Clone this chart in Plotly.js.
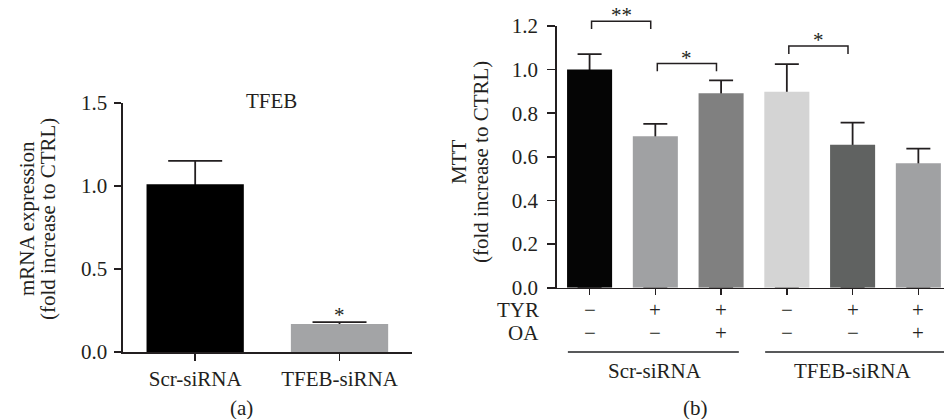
<!DOCTYPE html>
<html>
<head>
<meta charset="utf-8">
<script src="https://cdn.plot.ly/plotly-3.0.1.min.js"></script>
<style>html,body{margin:0;padding:0;background:#fff;}#chart{width:944px;height:419px;}</style>
</head>
<body>
<div id="chart"></div>
<script>
// ---- Panel (a) data ----
const aCategories = ['Scr-siRNA', 'TFEB-siRNA'];
const aValues = [1.01, 0.168];
const aErrors = [0.14, 0.012];
const aColors = ['#000000', '#a3a4a6'];
const aTitle = 'TFEB';
const aYTitle = ['mRNA expression', '(fold increase to CTRL)'];
const aSig = ['', '*'];

// ---- Panel (b) data ----
const bIndex = [0, 1, 2, 3, 4, 5];
const bGroup = ['Scr-siRNA', 'Scr-siRNA', 'Scr-siRNA', 'TFEB-siRNA', 'TFEB-siRNA', 'TFEB-siRNA'];
const bTYR = ['−', '+', '+', '−', '+', '+'];
const bOA = ['−', '−', '+', '−', '−', '+'];
const bValues = [1.0, 0.694, 0.892, 0.898, 0.655, 0.571];
const bErrors = [0.071, 0.057, 0.059, 0.127, 0.102, 0.067];
const bColors = ['#050505', '#a0a1a3', '#808080', '#d4d4d4', '#606261', '#a0a1a3'];
const bYTitle = ['MTT', '(fold increase to CTRL)'];
const bRowLabels = ['TYR', 'OA'];
const bGroups = ['Scr-siRNA', 'TFEB-siRNA'];
// significance comparisons: from index, to index, bracket height, label
const bCompFrom = [0, 1, 3];
const bCompTo = [1, 2, 4];
const bCompY = [1.222, 1.028, 1.108];
const bCompLabel = ['**', '*', '*'];

// ---- geometry ----
const W = 944, H = 419;
const FONT = 'Liberation Serif, Times New Roman, serif';
const FS = 21;
const INK = '#231f20';
const aXDom = [123 / W, 411.7 / W], aYDom = [1 - 352 / H, 1 - 102.7 / H];
const bXDom = [556.7 / W, 1], bYDom = [1 - 287.7 / H, 1 - 26 / H];
const aXR = [-0.5, 1.5], aYR = [0, 1.5];
const bXR = [-0.5, 5.39], bYR = [0, 1.2];
const lin = (v, r, d) => d[0] + (v - r[0]) / (r[1] - r[0]) * (d[1] - d[0]);
const ax = v => lin(v, aXR, aXDom), ay = v => lin(v, aYR, aYDom);
const bx = v => lin(v, bXR, bXDom), by = v => lin(v, bYR, bYDom);
const px2x = p => p / W, px2y = p => 1 - p / H;

const traces = [
  // error carrier (a): drawn beneath the opaque bars so only the upper whisker shows
  {type: 'bar', x: aCategories, y: aValues, width: 0.674, xaxis: 'x', yaxis: 'y',
   marker: {color: 'rgba(0,0,0,0)'}, hoverinfo: 'skip', showlegend: false,
   error_y: {type: 'data', symmetric: false, array: aErrors, arrayminus: aValues,
             width: 27, thickness: 1.8, color: INK}},
  {type: 'bar', x: aCategories, y: aValues, width: 0.674, xaxis: 'x', yaxis: 'y',
   marker: {color: aColors}, showlegend: false},
  // error carrier (b)
  {type: 'bar', x: bIndex, y: bValues, width: 0.685, xaxis: 'x2', yaxis: 'y2',
   marker: {color: 'rgba(0,0,0,0)'}, hoverinfo: 'skip', showlegend: false,
   error_y: {type: 'data', symmetric: false, array: bErrors, arrayminus: bValues,
             width: 12, thickness: 1.8, color: INK}},
  {type: 'bar', x: bIndex, y: bValues, width: 0.685, xaxis: 'x2', yaxis: 'y2',
   marker: {color: bColors}, showlegend: false}
];

const axCommon = {showgrid: false, zeroline: false, showline: true, linecolor: INK, linewidth: 1.6,
  ticks: 'outside', ticklen: 6, tickwidth: 1.6, tickcolor: INK, fixedrange: true,
  tickfont: {family: FONT, size: FS, color: INK}};

const annotations = [];
const shapes = [];
const ann = (text, x, y, opts) => annotations.push(Object.assign({text, x, y, xref: 'paper', yref: 'paper',
  xanchor: 'center', yanchor: 'middle', showarrow: false,
  font: {family: FONT, size: FS, color: INK}}, opts || {}));

// panel (a)
ann(aTitle, px2x(271), px2y(101));
ann(aYTitle[0], px2x(27), px2y(219), {textangle: -90});
ann(aYTitle[1], px2x(48), px2y(219), {textangle: -90});
aSig.forEach((s, i) => { if (s) ann(s, ax(i), ay(aValues[i] + aErrors[i]), {yanchor: 'bottom', yshift: -7}); });
ann('(a)', px2x(241), px2y(408));

// panel (b)
ann(bYTitle[0], px2x(459), px2y(162), {textangle: -90});
ann(bYTitle[1], px2x(481), px2y(162), {textangle: -90});
ann(bRowLabels[0], px2x(541), px2y(310), {xanchor: 'right'});
ann(bRowLabels[1], px2x(541), px2y(333), {xanchor: 'right'});
bIndex.forEach(i => {
  ann(bTYR[i], bx(i), px2y(310));
  ann(bOA[i], bx(i), px2y(333));
});
bCompFrom.forEach((f, k) => {
  const x0 = bx(f + 0.03), x1 = bx(bCompTo[k] - 0.07);
  const yT = by(bCompY[k]), yB = by(bCompY[k] - 0.036);
  shapes.push({type: 'path', xref: 'paper', yref: 'paper',
    path: `M ${x0} ${yB} L ${x0} ${yT} L ${x1} ${yT} L ${x1} ${yB}`,
    line: {color: INK, width: 1.5}});
  ann(bCompLabel[k], (x0 + x1) / 2, yT, {yanchor: 'bottom', yshift: -8});
});
bGroups.forEach((g, gi) => {
  const idx = bIndex.filter(i => bGroup[i] === g);
  const lo = Math.min(...idx), hi = Math.max(...idx);
  const mid = (lo + hi) / 2;
  const x0 = bx(lo - 0.33), x1 = Math.min(1, bx(hi + 0.27 + gi * 0.12));
  shapes.push({type: 'line', xref: 'paper', yref: 'paper', x0, x1, y0: px2y(352), y1: px2y(352),
    line: {color: '#58595b', width: 2}});
  ann(g, bx(mid), px2y(371));
});
ann('(b)', px2x(695), px2y(408));

const layout = {
  width: W, height: H, margin: {l: 0, r: 0, t: 0, b: 0},
  paper_bgcolor: '#ffffff', plot_bgcolor: 'rgba(0,0,0,0)',
  barmode: 'overlay', showlegend: false,
  font: {family: FONT, color: INK},
  xaxis: Object.assign({}, axCommon, {domain: aXDom, anchor: 'y', range: aXR, type: 'category', ticklen: 7}),
  yaxis: Object.assign({}, axCommon, {domain: aYDom, anchor: 'x', range: aYR, dtick: 0.5, tickformat: '.1f',
    ticklen: 7, ticklabelstandoff: 3}),
  xaxis2: Object.assign({}, axCommon, {domain: bXDom, anchor: 'y2', range: bXR,
    tickvals: bIndex, showticklabels: false}),
  yaxis2: Object.assign({}, axCommon, {domain: bYDom, anchor: 'x2', range: bYR, dtick: 0.2, tickformat: '.1f',
    ticklen: 8, ticklabelstandoff: 5}),
  annotations, shapes
};

Plotly.newPlot('chart', traces, layout, {displayModeBar: false, staticPlot: true});
</script>
</body>
</html>
